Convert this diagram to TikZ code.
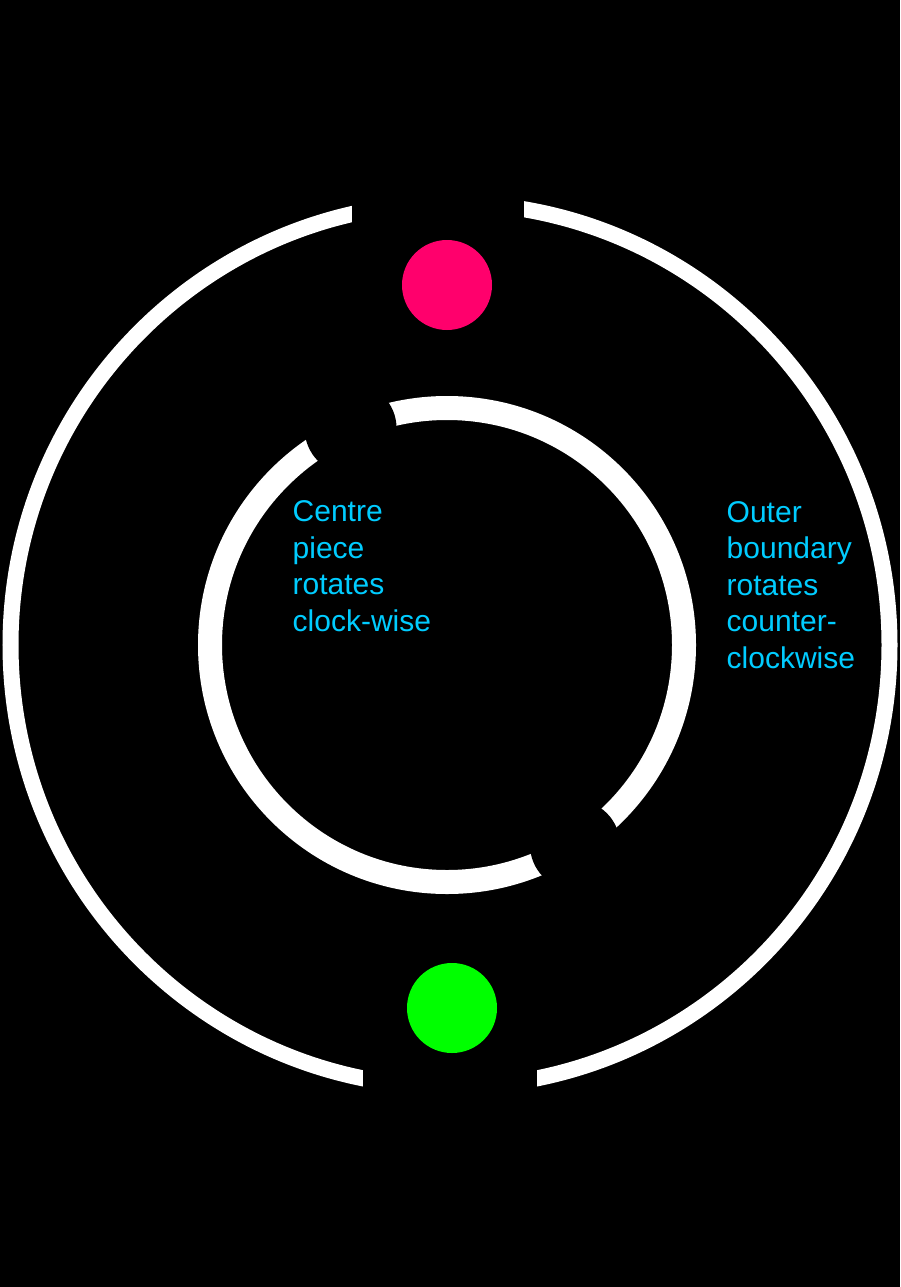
\documentclass[tikz,border=0pt]{standalone}
\usepackage{fontspec}
\setmainfont{Liberation Sans}
\definecolor{rotPink} {RGB}{255,  0, 108}
\definecolor{rotGreen}{RGB}{  0,255,   0}
\definecolor{rotCyan} {RGB}{  0,204, 255}
\usepackage{tikz}
\usetikzlibrary{positioning}

\begin{document}
\begin{tikzpicture}[
  x=1pt, y=-1pt,
  ring/.style={draw=white},
  cut/.style={fill=black},
  ball/.style={circle, inner sep=0pt, minimum size=90pt},
  note/.style={inner sep=0pt, align=left, text=rotCyan,
    font=\fontsize{30}{36.5}\selectfont},
]
  % Background
  \fill[black] (0,0) rectangle (900,1287);

  % Outer boundary
  \draw[ring, line width=16pt] (450,645) ellipse [x radius=439.5, y radius=442];
  \fill[cut] (352,180) rectangle (524,238);
  \fill[cut] (363,1055) rectangle (537,1105);

  % Centre piece
  \draw[ring, line width=24pt] (447,645) circle [radius=237];
  \fill[cut] (350.6,428.5) circle [radius=46];
  \fill[cut] (575,845) circle [radius=45];

  % Balls
  \node[ball, fill=rotPink]  (top)    at (447,285)  {};
  \node[ball, fill=rotGreen] (bottom) at (452,1008) {};

  % Labels (base = last line)
  \node[note, anchor=base west] (centre) at (292.5,631)
    {Centre\\piece\\rotates\\clock-wise};
  \node[note, anchor=base west] (outer) at (726.5,668)
    {Outer\\boundary\\rotates\\counter-\\clockwise};
\end{tikzpicture}
\end{document}
